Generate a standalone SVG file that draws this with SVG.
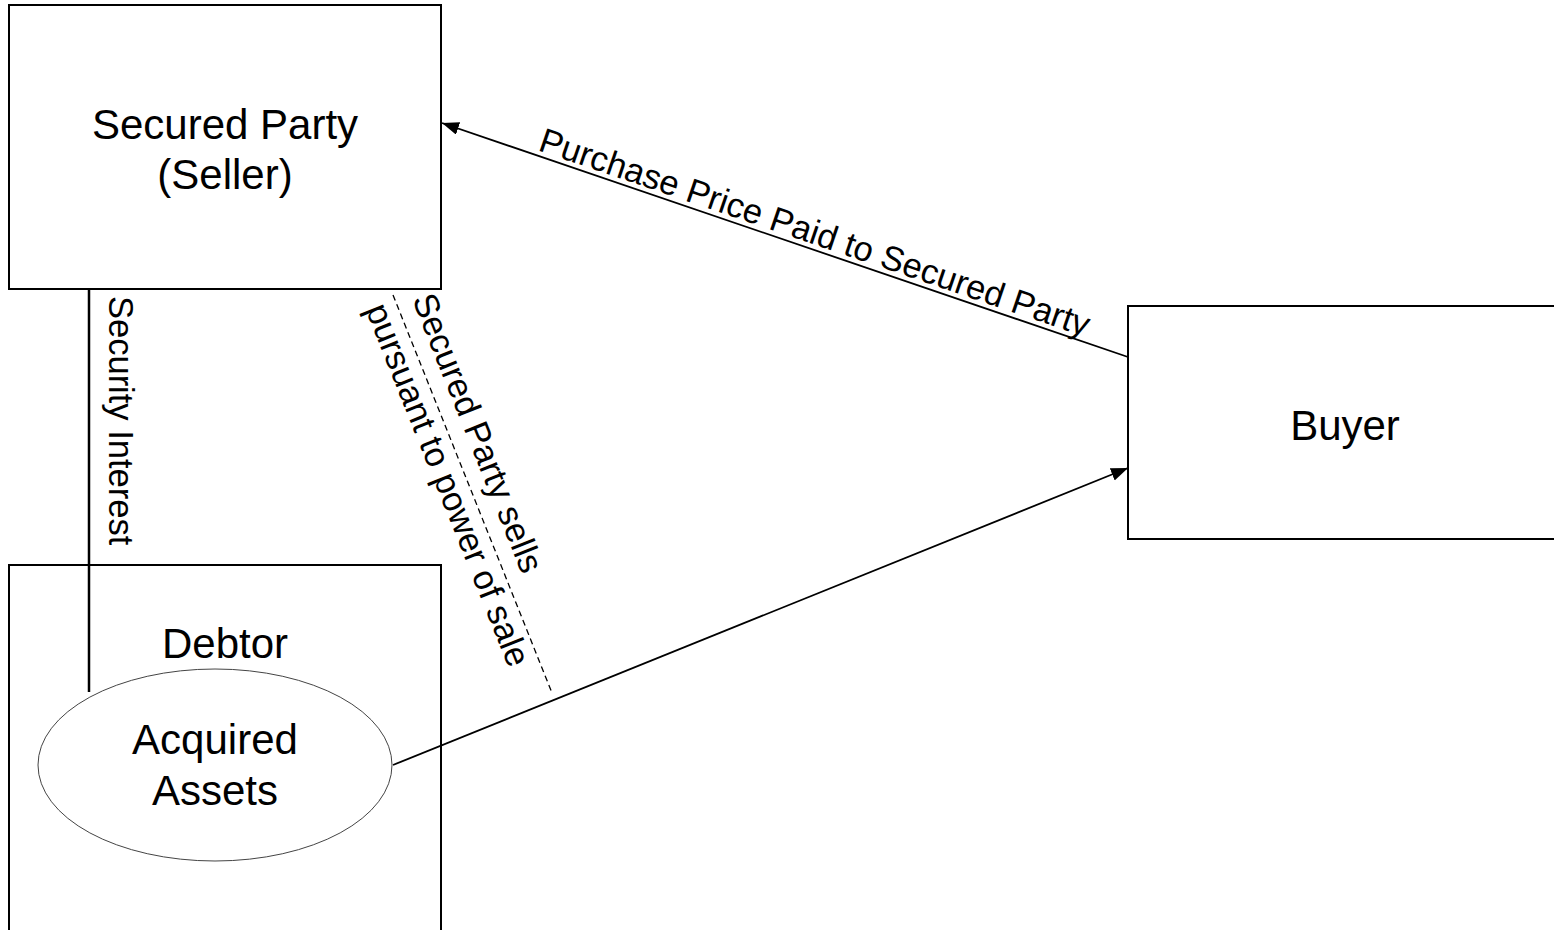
<svg xmlns="http://www.w3.org/2000/svg" width="1554" height="930" viewBox="0 0 1554 930">
  <style>
    .box { fill: #ffffff; stroke: #000000; stroke-width: 2; }
    .ell { fill: #ffffff; stroke: #444444; stroke-width: 1; }
    .lbl { font-family: "Liberation Sans", Arial, sans-serif; font-size: 42px; fill: #000000; text-anchor: middle; }
    .clbl { font-family: "Liberation Sans", Arial, sans-serif; font-size: 34.5px; fill: #000000; }
    .conn { fill: none; stroke: #000000; stroke-width: 1.8; }
  </style>
  <defs>
    <marker id="arrow" markerUnits="userSpaceOnUse" markerWidth="20" markerHeight="16" refX="17" refY="6.5" orient="auto">
      <path d="M0,0 L17,6.5 L0,13 Z" fill="#000000"/>
    </marker>
  </defs>
  <rect width="1554" height="930" fill="#ffffff"/>

  <g id="secured-party">
    <rect class="box" x="9" y="5" width="432" height="284"/>
    <text class="lbl" x="225" y="139">Secured Party</text>
    <text class="lbl" x="225" y="189">(Seller)</text>
  </g>

  <g id="debtor">
    <rect class="box" x="9" y="565" width="432" height="380"/>
    <text class="lbl" x="225" y="658">Debtor</text>
  </g>

  <g id="buyer">
    <rect class="box" x="1128" y="306" width="440" height="233"/>
    <text class="lbl" x="1345" y="440">Buyer</text>
  </g>

  <g id="connectors">
    <line x1="89" y1="289" x2="89" y2="692" stroke="#000000" stroke-width="2.5"/>
    <text class="clbl" transform="translate(109,296) rotate(90)" x="0" y="0">Security Interest</text>

    <line class="conn" x1="1128" y1="357" x2="442" y2="123" marker-end="url(#arrow)"/>
    <text class="clbl" transform="translate(537,150) rotate(18.83)" x="0" y="0">Purchase Price Paid to Secured Party</text>

    <line x1="393" y1="295" x2="552" y2="693" stroke="#000000" stroke-width="1.3" stroke-dasharray="6,4"/>
    <g transform="translate(393,295) rotate(68.22)">
      <text class="clbl" x="11" y="-16">Secured Party sells</text>
      <text class="clbl" x="3" y="31">pursuant to power of sale</text>
    </g>

    <line class="conn" x1="393" y1="765" x2="1128" y2="468" marker-end="url(#arrow)"/>
  </g>

  <g id="acquired-assets">
    <ellipse class="ell" cx="215" cy="765" rx="177" ry="96"/>
    <text class="lbl" x="215" y="754">Acquired</text>
    <text class="lbl" x="215" y="805">Assets</text>
  </g>
</svg>
